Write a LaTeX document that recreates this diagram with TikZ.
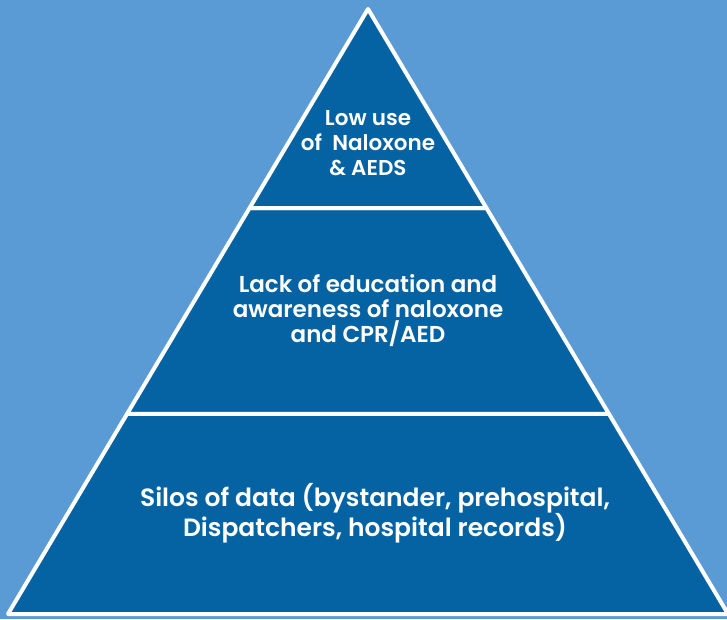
\documentclass[tikz,border=0pt]{standalone}
\usepackage{fontspec}
\setmainfont{Poppins}[UprightFont=* SemiBold]
\usepackage{xcolor}
\usepackage{tikz}
\usetikzlibrary{calc}

\definecolor{skyblue}{RGB}{91,155,213}
\definecolor{deepblue}{RGB}{6,99,163}

\tikzset{
  tier/.style={fill=deepblue, draw=white, line width=4pt, line join=round},
  tiertext/.style={text=white, align=center, font=\fontsize{21.5}{25}\selectfont}
}

\begin{document}
\begin{tikzpicture}[x=1pt, y=1pt]
    % background
    \fill[skyblue] (0, 0) rectangle (727, 619);
    \useasboundingbox (0, 0) rectangle (727, 619);

    \coordinate (apex) at (368, 610);
    \coordinate (bl) at (8, 5);
    \coordinate (br) at (728, 5);
    \coordinate (ul) at ($(apex)!0.329!(bl)$);
    \coordinate (ur) at ($(apex)!0.329!(br)$);
    \coordinate (ml) at ($(apex)!0.669!(bl)$);
    \coordinate (mr) at ($(apex)!0.669!(br)$);

    % bottom tier
    \draw[tier] (ml) -- (mr) -- (br) -- (bl) -- cycle;
    % middle tier
    \draw[tier] (ul) -- (ur) -- (mr) -- (ml) -- cycle;
    % top tier
    \draw[tier] (apex) -- (ur) -- (ul) -- cycle;

    \node[tiertext] (top) at (368, 476) {Low use\\of \ Naloxone\\\& AEDS};
    \node[tiertext, font=\fontsize{23}{25}\selectfont] (mid) at (368, 308) {Lack of education and\\awareness of naloxone\\and CPR/AED};
    \node[tiertext, font=\fontsize{25}{30}\selectfont] (base) at (375, 106) {Silos of data (bystander, prehospital,\\Dispatchers, hospital records)};
  \end{tikzpicture}
\end{document}
